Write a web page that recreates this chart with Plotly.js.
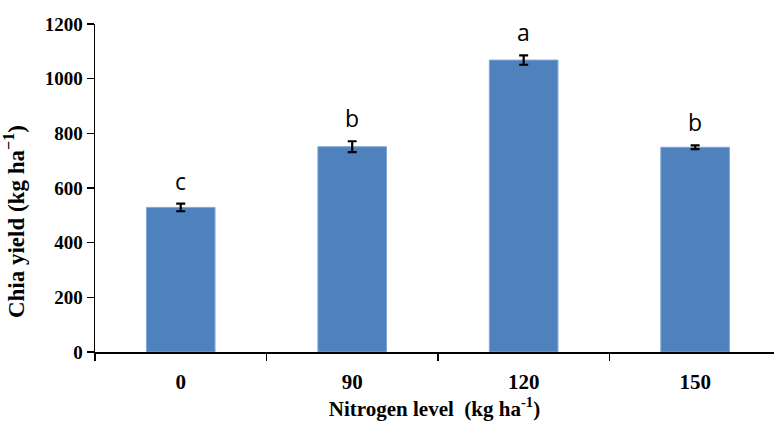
<!DOCTYPE html>
<html>
<head>
<meta charset="utf-8">
<script src="https://cdn.plot.ly/plotly-3.0.1.min.js"></script>
<style>html,body{margin:0;padding:0;background:#fff;}#chart{width:774px;height:424px;}</style>
</head>
<body>
<div id="chart"></div>
<script>
const categories = ["0", "90", "120", "150"];
const yieldValues = [529, 751, 1068, 749];
const errorValues = [14, 20, 17, 7];
const letters = ["c", "b", "a", "b"];
const yTickValues = [0, 200, 400, 600, 800, 1000, 1200];

const trace = {
  type: "bar",
  x: categories,
  y: yieldValues,
  width: 0.4,
  marker: { color: "#4F81BD", line: { color: "#7FA6D8", width: 1 } },
  error_y: { type: "data", array: errorValues, visible: true, color: "#000", thickness: 2.2, width: 4.5 },
  hoverinfo: "x+y"
};

const annotations = categories.map((c, i) => ({
  x: i,
  y: yieldValues[i] + errorValues[i],
  xref: "x",
  yref: "y",
  text: letters[i],
  showarrow: false,
  yanchor: "bottom",
  yshift: 5,
  font: { family: "'Open Sans', sans-serif", size: 23, color: "#000" }
}));

annotations.push({
  xref: "paper",
  yref: "paper",
  x: 0,
  y: 0.396,
  xshift: -81,
  xanchor: "center",
  yanchor: "middle",
  textangle: -90,
  showarrow: false,
  text: "<b>Chia yield (kg ha<sup>−1</sup>)</b>",
  font: { family: "'Liberation Serif', 'Times New Roman', serif", size: 23, color: "#000" }
});

const layout = {
  width: 774,
  height: 424,
  margin: { l: 95, r: 0, t: 24, b: 72, pad: 0 },
  paper_bgcolor: "#fff",
  plot_bgcolor: "#fff",
  showlegend: false,
  xaxis: {
    type: "category",
    range: [-0.5, 3.46],
    showline: true,
    linecolor: "#000",
    linewidth: 1.5,
    ticks: "outside",
    tickson: "boundaries",
    ticklen: 7,
    tickwidth: 1.5,
    tickcolor: "#000",
    ticklabelstandoff: 10,
    showgrid: false,
    zeroline: false,
    automargin: false,
    tickfont: { family: "'Liberation Serif', 'Times New Roman', serif", size: 21, color: "#000", weight: "bold" },
    title: {
      text: "<b>Nitrogen level  (kg ha<sup>-1</sup>)</b>",
      font: { family: "'Liberation Serif', 'Times New Roman', serif", size: 21, color: "#000" },
      standoff: 8
    }
  },
  yaxis: {
    range: [0, 1200],
    tickvals: yTickValues,
    ticktext: yTickValues.map(String),
    showline: true,
    linecolor: "#000",
    linewidth: 1.5,
    ticks: "outside",
    ticklen: 7,
    tickwidth: 1.5,
    tickcolor: "#000",
    showgrid: false,
    zeroline: false,
    automargin: false,
    tickfont: { family: "'Liberation Serif', 'Times New Roman', serif", size: 19, color: "#000", weight: "bold" }
  },
  annotations: annotations
};

Plotly.newPlot("chart", [trace], layout, { displayModeBar: false, staticPlot: true });
</script>
</body>
</html>
